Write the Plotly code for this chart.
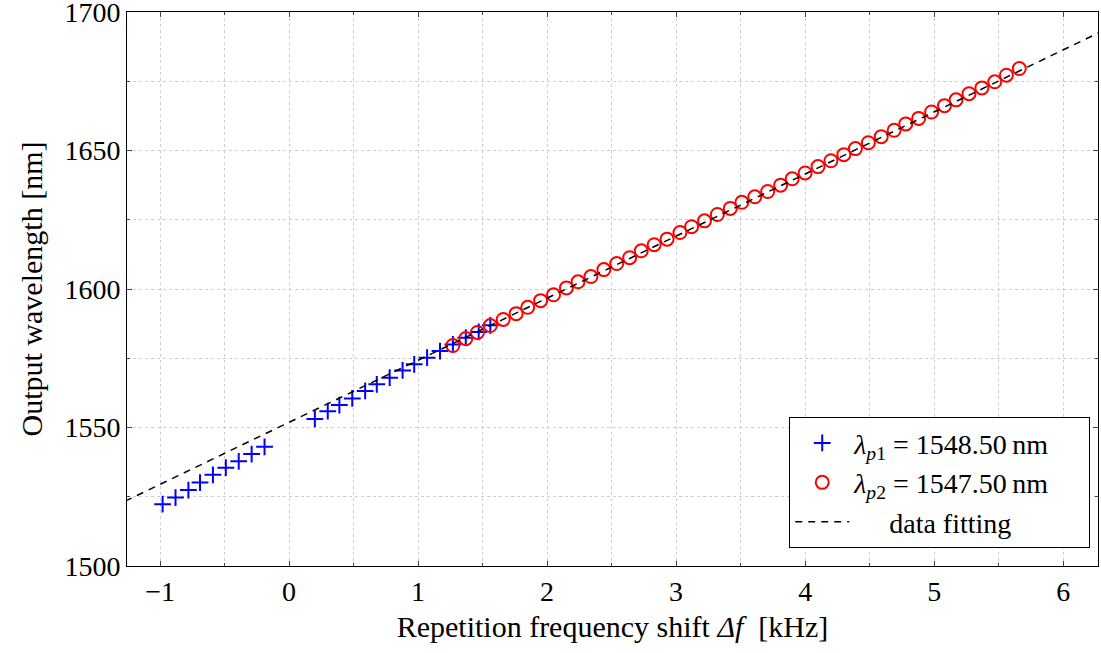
import plotly.graph_objects as go

# Blue crosses: lambda_p1 = 1548.50 nm
p1_x = [-0.98, -0.88, -0.78, -0.69, -0.59, -0.49, -0.39, -0.29, -0.19,
        0.20, 0.30, 0.39, 0.49, 0.59, 0.68, 0.78, 0.88, 0.97, 1.07, 1.17,
        1.27, 1.37, 1.47, 1.56]
p1_y = [1522.3, 1524.7, 1527.4, 1530.1, 1532.9, 1535.5, 1537.8, 1540.4, 1543.0,
        1553.1, 1555.9, 1558.1, 1560.5, 1563.2, 1565.6, 1568.0, 1570.6, 1572.8,
        1575.2, 1577.6, 1580.0, 1582.4, 1584.5, 1586.9]

# Red circles: lambda_p2 = 1547.50 nm
p2_x = [1.27, 1.37, 1.46, 1.56, 1.66, 1.76, 1.85, 1.95, 2.05, 2.15, 2.24, 2.34,
        2.44, 2.54, 2.64, 2.73, 2.83, 2.93, 3.03, 3.12, 3.22, 3.32, 3.42, 3.51,
        3.61, 3.71, 3.81, 3.90, 4.00, 4.10, 4.20, 4.30, 4.39, 4.49, 4.59, 4.69,
        4.78, 4.88, 4.98, 5.08, 5.17, 5.27, 5.37, 5.47, 5.56, 5.66]
p2_y = [1579.6, 1582.1, 1584.3, 1586.8, 1589.0, 1591.1, 1593.4, 1595.8, 1597.9,
        1600.4, 1602.6, 1604.5, 1607.0, 1609.2, 1611.3, 1613.8, 1616.0, 1618.0,
        1620.4, 1622.5, 1624.6, 1626.9, 1629.1, 1631.3, 1633.3, 1635.2, 1637.5,
        1639.8, 1641.9, 1644.2, 1646.3, 1648.5, 1650.7, 1652.8, 1655.0, 1657.3,
        1659.6, 1661.6, 1663.9, 1666.2, 1668.3, 1670.5, 1672.6, 1674.8, 1677.2,
        1679.6]

# Linear data fitting (end points)
fit_x = [-1.27, 6.28]
fit_y = [1523.4, 1692.6]

x_ticks = [-1, 0, 1, 2, 3, 4, 5, 6]
x_tick_labels = ["\u22121", "0", "1", "2", "3", "4", "5", "6"]
y_ticks = [1500, 1550, 1600, 1650, 1700]

FONT = "Liberation Serif"
PAD = "&nbsp;" * 5

fig = go.Figure()
fig.add_trace(go.Scatter(
    x=p1_x, y=p1_y, mode="markers",
    name="<i>λ</i><sub><i>p</i>1</sub> = 1548.50\u2009nm" + PAD,
    marker=dict(symbol="cross-thin", size=12, color="blue",
                line=dict(color="blue", width=2)),
))
fig.add_trace(go.Scatter(
    x=p2_x, y=p2_y, mode="markers",
    name="<i>λ</i><sub><i>p</i>2</sub> = 1547.50\u2009nm" + PAD,
    marker=dict(symbol="circle-open", size=13, color="red",
                line=dict(color="red", width=2)),
))
fig.add_trace(go.Scatter(
    x=fit_x, y=fit_y, mode="lines",
    name="&nbsp;&nbsp;&nbsp;&nbsp;&nbsp;data fitting",
    line=dict(color="black", width=1.5, dash="7px,6px"),
))

grid = dict(showgrid=True, gridcolor="#cfcfcf", griddash="dot", gridwidth=1)

fig.update_layout(
    width=1101, height=653,
    margin=dict(l=127, r=3, t=12, b=87),
    paper_bgcolor="white", plot_bgcolor="white",
    font=dict(family=FONT, size=28, color="black"),
    showlegend=True,
    legend=dict(
        x=0.992, y=0.032, xanchor="right", yanchor="bottom",
        bgcolor="white", bordercolor="black", borderwidth=1,
        font=dict(family=FONT, size=28, color="black"),
        tracegroupgap=0, itemwidth=54,
    ),
    xaxis=dict(
        range=[-1.256, 6.27], automargin=False,
        tickvals=x_ticks, ticktext=x_tick_labels,
        tickfont=dict(size=28), ticklabeloverflow="allow",
        ticks="inside", ticklen=5, tickcolor="#444",
        minor=dict(dtick=0.5, tick0=0, ticks="inside", ticklen=3,
                   showgrid=True, gridcolor="#cfcfcf", griddash="dot"),
        showline=True, linecolor="black", linewidth=1, mirror="ticks",
        zeroline=False,
        title=dict(text="Repetition frequency shift&nbsp;<i>Δf</i>&nbsp;&nbsp;[kHz]",
                   font=dict(size=30), standoff=10),
        **grid,
    ),
    yaxis=dict(
        range=[1499.99, 1700.01], automargin=False,
        tickvals=y_ticks,
        tickfont=dict(size=28), ticklabeloverflow="allow",
        ticks="inside", ticklen=5, tickcolor="#444",
        minor=dict(dtick=25, tick0=1500, ticks="inside", ticklen=3,
                   showgrid=True, gridcolor="#cfcfcf", griddash="dot"),
        showline=True, linecolor="black", linewidth=1, mirror="ticks",
        zeroline=False,
        title=dict(text="Output wavelength [nm]", font=dict(size=30), standoff=12),
        **grid,
    ),
)

fig.write_html("out.html",
               config={"displayModeBar": False},
               post_script="document.body.style.margin='0';document.body.style.overflow='hidden';")
